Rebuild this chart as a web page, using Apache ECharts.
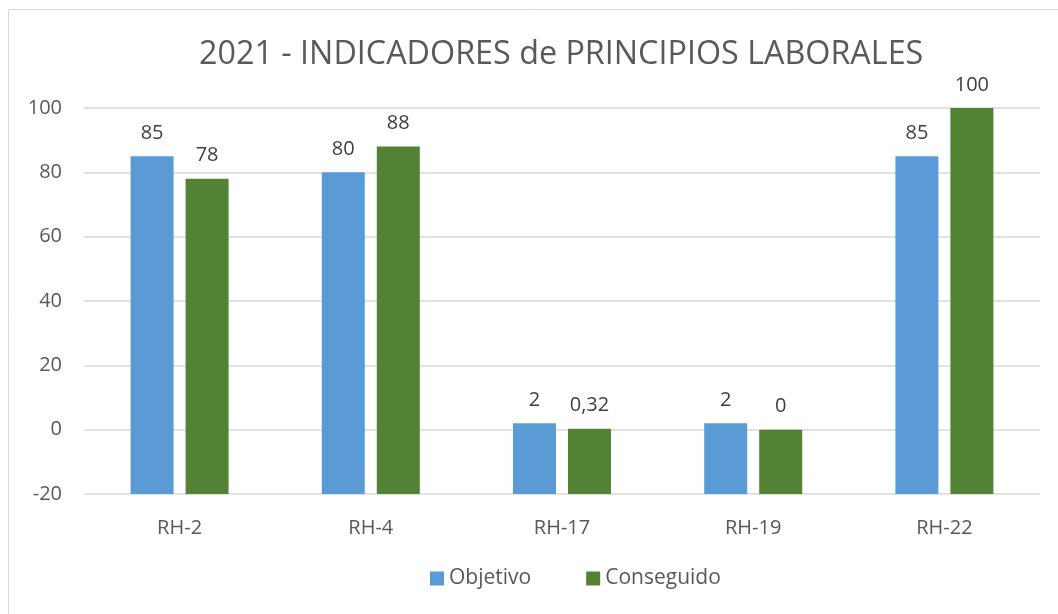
<!DOCTYPE html>
<html><head><meta charset="utf-8">
<script src="https://cdn.jsdelivr.net/npm/echarts@6/dist/echarts.min.js"></script>
<style>html,body{margin:0;padding:0;background:#fff}#c{width:1058px;height:614px}</style>
</head><body><div id="c"></div>
<script>
const categories = ['RH-2', 'RH-4', 'RH-17', 'RH-19', 'RH-22'];
const objetivo = [85, 80, 2, 2, 85];
const conseguido = [78, 88, 0.32, 0, 100];
const seriesNames = ['Objetivo', 'Conseguido'];
const titleText = '2021 - INDICADORES de PRINCIPIOS LABORALES';

const font = '"Open Sans", sans-serif';
const Y_MIN = -20, Y_MAX = 100, Y_STEP = 20;
const BAR_W = 43;
const fmt = v => String(v).replace('.', ',');

function makeRender(offset, color) {
  return function (params, api) {
    const ci = api.value(0), v = api.value(1);
    const top = api.coord([ci, v]);
    const base = api.coord([ci, Y_MIN]);
    const cx = top[0] + offset;
    return {
      type: 'group',
      children: [
        {type: 'rect', shape: {x: cx - BAR_W / 2, y: top[1], width: BAR_W, height: base[1] - top[1]},
          style: {fill: color}},
        {type: 'text', style: {text: fmt(v), x: cx, y: top[1] - 13, align: 'center', verticalAlign: 'bottom',
          font: '20px "Open Sans", sans-serif', fill: '#404040'}}
      ]
    };
  };
}

const chart = echarts.init(document.getElementById('c'));
chart.setOption({
  animation: false,
  graphic: [{type: 'rect', shape: {x: 8.5, y: 9.5, width: 1060, height: 620}, style: {fill: 'none', stroke: '#d9d9d9', lineWidth: 1}}],
  title: {text: titleText, left: 194, top: 34, textStyle: {fontFamily: font, fontSize: 32.3, fontWeight: 'normal', color: '#595959'}},
  legend: {data: seriesNames, bottom: 20, left: 425, itemWidth: 14, itemHeight: 14, itemGap: 55, icon: 'rect',
    textStyle: {fontFamily: font, fontSize: 21, color: '#595959'}},
  grid: {left: 84, right: 18, top: 108, bottom: 120, containLabel: false},
  xAxis: {type: 'category', data: categories, axisLine: {show: false}, axisTick: {show: false},
    axisLabel: {fontFamily: font, fontSize: 20, color: '#595959', margin: 24}},
  yAxis: {type: 'value', min: Y_MIN, max: Y_MAX, interval: Y_STEP, axisLine: {show: false}, axisTick: {show: false},
    splitLine: {lineStyle: {color: '#d9d9d9', width: 1.5}},
    axisLabel: {fontFamily: font, fontSize: 20, color: '#595959', margin: 22}},
  series: [
    {name: seriesNames[0], type: 'custom', itemStyle: {color: '#5B9BD5'}, encode: {x: 0, y: 1},
      data: objetivo.map((v, i) => [i, v]), renderItem: makeRender(-27.5, '#5B9BD5')},
    {name: seriesNames[1], type: 'custom', itemStyle: {color: '#548235'}, encode: {x: 0, y: 1},
      data: conseguido.map((v, i) => [i, v]), renderItem: makeRender(27.5, '#548235')}
  ]
});
</script></body></html>
